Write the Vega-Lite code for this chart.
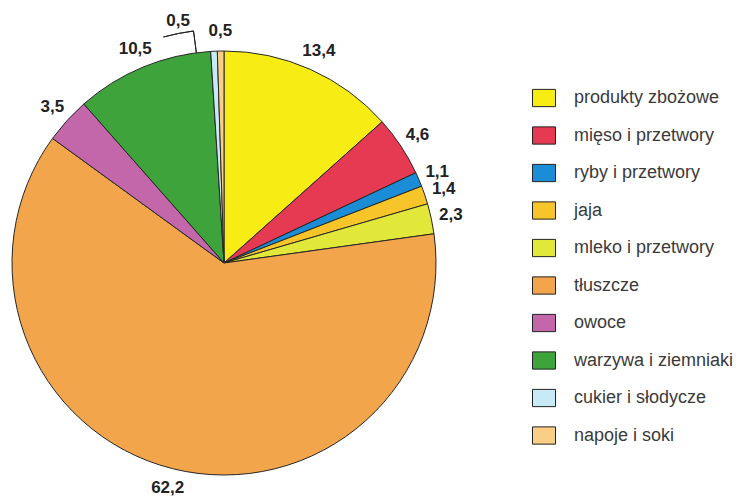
{
  "$schema": "https://vega.github.io/schema/vega-lite/v6.json",
  "width": 448,
  "height": 476,
  "autosize": "none",
  "padding": {"left": 0, "top": 25, "right": 297, "bottom": 2},
  "background": "white",
  "config": {
    "view": {"stroke": null},
    "locale": {"number": {"decimal": ",", "thousands": " ", "grouping": [3], "currency": ["", " zł"]}}
  },
  "data": {
    "values": [
      {"k": 1, "n": "produkty zbożowe", "v": 13.4},
      {"k": 2, "n": "mięso i przetwory", "v": 4.6},
      {"k": 3, "n": "ryby i przetwory", "v": 1.1},
      {"k": 4, "n": "jaja", "v": 1.4},
      {"k": 5, "n": "mleko i przetwory", "v": 2.3},
      {"k": 6, "n": "tłuszcze", "v": 62.2},
      {"k": 7, "n": "owoce", "v": 3.5},
      {"k": 8, "n": "warzywa i ziemniaki", "v": 10.5},
      {"k": 9, "n": "cukier i słodycze", "v": 0.5},
      {"k": 10, "n": "napoje i soki", "v": 0.5}
    ]
  },
  "layer": [
    {
      "mark": {"type": "arc", "radius": 212, "stroke": "#262626", "strokeWidth": 1},
      "encoding": {
        "theta": {"field": "v", "type": "quantitative", "stack": true},
        "order": {"field": "k", "type": "quantitative"},
        "color": {
          "field": "n",
          "type": "nominal",
          "scale": {
            "domain": ["produkty zbożowe", "mięso i przetwory", "ryby i przetwory", "jaja", "mleko i przetwory", "tłuszcze", "owoce", "warzywa i ziemniaki", "cukier i słodycze", "napoje i soki"],
            "range": ["#f7ec13", "#e63a52", "#1b8cd6", "#f7c42a", "#e2e83a", "#f3a54b", "#c466aa", "#3ea33a", "#c8e9f6", "#f9cf85"]
          },
          "legend": {
            "title": null,
            "orient": "none",
            "legendX": 532,
            "legendY": 61,
            "padding": 0,
            "symbolType": "M-1,-0.75H1V0.75H-1Z",
            "symbolSize": 529,
            "symbolStrokeColor": "#222",
            "symbolStrokeWidth": 1,
            "symbolOpacity": 1,
            "labelFont": "Liberation Sans",
            "labelFontSize": 18,
            "labelColor": "#3a3a3a",
            "labelOffset": 18,
            "rowPadding": 14.5
          }
        }
      }
    },
    {
      "mark": {"type": "text", "radius": 232, "font": "Liberation Sans", "fontSize": 17, "fontWeight": "bold", "fill": "#222"},
      "encoding": {
        "theta": {"field": "v", "type": "quantitative", "stack": true},
        "order": {"field": "k", "type": "quantitative"},
        "text": {
          "condition": {"test": "datum.n === 'cukier i słodycze'", "value": ""},
          "field": "v", "type": "quantitative", "format": ".1f"
        }
      }
    },
    {
      "mark": {"type": "text", "radius": 232, "dx": -35, "dy": -10, "font": "Liberation Sans", "fontSize": 17, "fontWeight": "bold", "fill": "#222"},
      "encoding": {
        "theta": {"field": "v", "type": "quantitative", "stack": true},
        "order": {"field": "k", "type": "quantitative"},
        "text": {
          "condition": {"test": "datum.n !== 'cukier i słodycze'", "value": ""},
          "field": "v", "type": "quantitative", "format": ".1f"
        }
      }
    },
    {
      "data": {"values": [{"part": "leader"}]},
      "mark": {"type": "arc", "radius": 234, "radius2": 212, "filled": false, "stroke": "#222", "strokeWidth": 1},
      "encoding": {
        "theta": {"datum": 97.92, "type": "quantitative"},
        "theta2": {"datum": 97.92}
      }
    },
    {
      "data": {"values": [{"part": "underline"}]},
      "mark": {"type": "arc", "radius": 234, "radius2": 234, "filled": false, "stroke": "#222", "strokeWidth": 1},
      "encoding": {
        "theta": {"datum": 95.83, "type": "quantitative"},
        "theta2": {"datum": 97.92}
      }
    }
  ]
}
